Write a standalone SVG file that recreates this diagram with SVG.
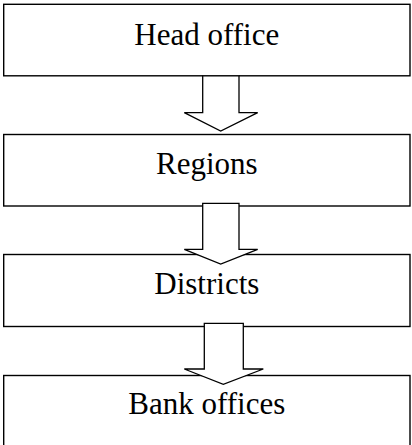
<svg xmlns="http://www.w3.org/2000/svg" width="412" height="445" viewBox="0 0 412 445">
<style>
.box{fill:#fff;stroke:#000;stroke-width:1.4}
.arr{fill:#fff;stroke:#000;stroke-width:1.3;stroke-linejoin:miter}
.lbl{font-family:"Liberation Serif","Times New Roman",serif;font-size:31px;fill:#000;text-anchor:middle}
</style>
<rect width="412" height="445" fill="#fff"/>
<g id="head-office">
<rect class="box" x="3.7" y="4.3" width="406.3" height="71.5"/>
<text class="lbl" x="206.8" y="45">Head office</text>
</g>
<g id="regions">
<rect class="box" x="3.7" y="134.5" width="406.3" height="71.5"/>
<text class="lbl" x="206.8" y="174">Regions</text>
</g>
<g id="districts">
<rect class="box" x="3.7" y="254.5" width="406.3" height="72"/>
<text class="lbl" x="206.8" y="294">Districts</text>
</g>
<g id="bank-offices">
<rect class="box" x="3.7" y="375.5" width="406.3" height="80"/>
<text class="lbl" x="206.8" y="414">Bank offices</text>
</g>
<g id="connectors">
<polygon class="arr" points="202.7,75.8 239,75.8 239,112.7 257.7,112.7 220.7,131 184.3,112.7 202.7,112.7"/>
<polygon class="arr" points="202.7,203.3 239,203.3 239,249.3 257.7,249.3 220.7,264 184.3,249.3 202.7,249.3"/>
<polygon class="arr" points="204.3,323.3 243.3,323.3 243.3,369 263.3,369 223.3,384.3 184.3,369 204.3,369"/>
</g>
</svg>
